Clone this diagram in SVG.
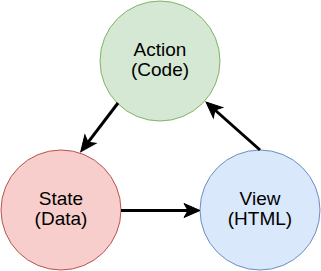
<svg xmlns="http://www.w3.org/2000/svg" width="321" height="271" viewBox="0 0 321 271">
  <style>
    .lbl { font-family: "Liberation Sans", Arial, Helvetica, sans-serif; font-size: 19px; fill: #000000; text-anchor: middle; }
    .edge { stroke: #000000; stroke-width: 3; fill: none; }
    .green { fill: #d5e8d4; stroke: #82b366; stroke-width: 1; }
    .red { fill: #f8cecc; stroke: #b85450; stroke-width: 1; }
    .blue { fill: #dae8fc; stroke: #6c8ebf; stroke-width: 1; }
  </style>
  <defs>
    <marker id="arrow" markerUnits="userSpaceOnUse" markerWidth="30" markerHeight="30" refX="0" refY="0" orient="auto" overflow="visible" viewBox="-15 -15 30 30">
      <path d="M0,0 L-4,-7 L12,0 L-4,7 Z" fill="#000000" stroke="#000000" stroke-width="1" stroke-linejoin="miter"/>
    </marker>
  </defs>
  <g id="node-action">
    <circle class="green" cx="160" cy="61" r="60"/>
    <text class="lbl" x="160" y="55.5">Action</text>
    <text class="lbl" x="160" y="75.5">(Code)</text>
  </g>
  <g id="node-state">
    <circle class="red" cx="61" cy="210" r="60"/>
    <text class="lbl" x="61" y="204.5">State</text>
    <text class="lbl" x="61" y="224.5">(Data)</text>
  </g>
  <g id="node-view">
    <circle class="blue" cx="260" cy="210" r="60"/>
    <text class="lbl" x="260" y="204.5">View</text>
    <text class="lbl" x="260" y="224.5">(HTML)</text>
  </g>
  <g id="connectors">
    <line class="edge" x1="118" y1="103" x2="88" y2="142.3" marker-end="url(#arrow)"/>
    <line class="edge" x1="121" y1="210.5" x2="188" y2="210.5" marker-end="url(#arrow)"/>
    <line class="edge" x1="260" y1="150" x2="215" y2="110" marker-end="url(#arrow)"/>
  </g>
</svg>
